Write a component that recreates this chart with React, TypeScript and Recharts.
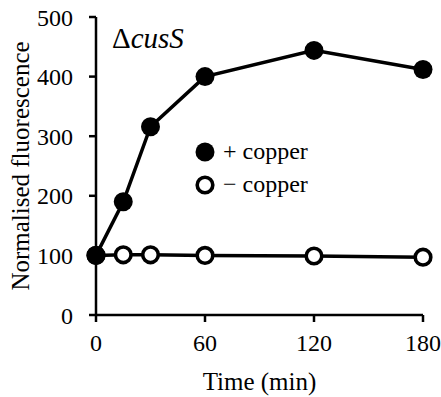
import { Line, LineChart, XAxis, YAxis } from "recharts";

const TIMES = [0, 15, 30, 60, 120, 180];
const WITH_COPPER = [100, 190, 316, 400, 444, 412];
const WITHOUT_COPPER = [100, 101, 101, 100, 99, 97];
const X_TICKS = [0, 60, 120, 180];
const Y_TICKS = [0, 100, 200, 300, 400, 500];

const FONT = "Liberation Serif, Times New Roman, serif";
const INK = "#000";

const data = TIMES.map((t, i) => ({ t, plus: WITH_COPPER[i], minus: WITHOUT_COPPER[i] }));

function FilledDot(props: any) {
  const { cx, cy } = props;
  return <circle cx={cx} cy={cy} r={9.5} fill={INK} />;
}

function OpenDot(props: any) {
  const { cx, cy } = props;
  return <circle cx={cx} cy={cy} r={7.8} fill="#fff" stroke={INK} strokeWidth={3.6} />;
}

function LegendBox() {
  const row = { display: "flex", alignItems: "center", height: 33 };
  const txt = { fontFamily: FONT, fontSize: 24, color: INK, marginLeft: 7 };
  return (
    <div style={{ position: "absolute", left: 194, top: 135 }}>
      <div style={row}>
        <svg width={22} height={22}><circle cx={11} cy={11} r={9.5} fill={INK} /></svg>
        <span style={txt}>+ copper</span>
      </div>
      <div style={row}>
        <svg width={22} height={22}><circle cx={11} cy={11} r={7.8} fill="#fff" stroke={INK} strokeWidth={3.6} /></svg>
        <span style={txt}>− copper</span>
      </div>
    </div>
  );
}

function YLabel(props: any) {
  const { viewBox } = props;
  const cy = viewBox.y + viewBox.height / 2;
  return (
    <text x={20} y={cy} transform={`rotate(-90 20 ${cy})`} textAnchor="middle" dominantBaseline="central"
      fontFamily={FONT} fontSize={25} fill={INK}>
      Normalised fluorescence
    </text>
  );
}

export default function App() {
  return (
    <div style={{ position: "absolute", left: 0, top: 0, width: 441, height: 397, background: "#fff" }}>
      <LineChart width={441} height={397} data={data} margin={{ top: 17, right: 18, bottom: 0, left: 0 }}>
        <XAxis
          dataKey="t"
          type="number"
          domain={[0, 180]}
          ticks={X_TICKS}
          height={82}
          stroke={INK}
          strokeWidth={2.5}
          tickSize={7}
          tickMargin={12}
          tick={{ fontSize: 24, fill: INK, fontFamily: FONT }}
          label={{ value: "Time (min)", position: "insideBottom", offset: 7, fontSize: 25, fill: INK, fontFamily: FONT }}
        />
        <YAxis
          domain={[0, 500]}
          ticks={Y_TICKS}
          width={96}
          stroke={INK}
          strokeWidth={2.5}
          tickSize={7}
          tickMargin={16}
          tick={{ fontSize: 24, fill: INK, fontFamily: FONT }}
          label={<YLabel />}
        />
        <Line dataKey="minus" stroke={INK} strokeWidth={3.5} dot={<OpenDot />} isAnimationActive={false} />
        <Line dataKey="plus" stroke={INK} strokeWidth={3.5} dot={<FilledDot />} isAnimationActive={false} />
      </LineChart>
      <div style={{ position: "absolute", left: 112, top: 22, fontFamily: FONT, fontSize: 29, color: INK }}>
        Δ<i>cusS</i>
      </div>
      <LegendBox />
    </div>
  );
}
